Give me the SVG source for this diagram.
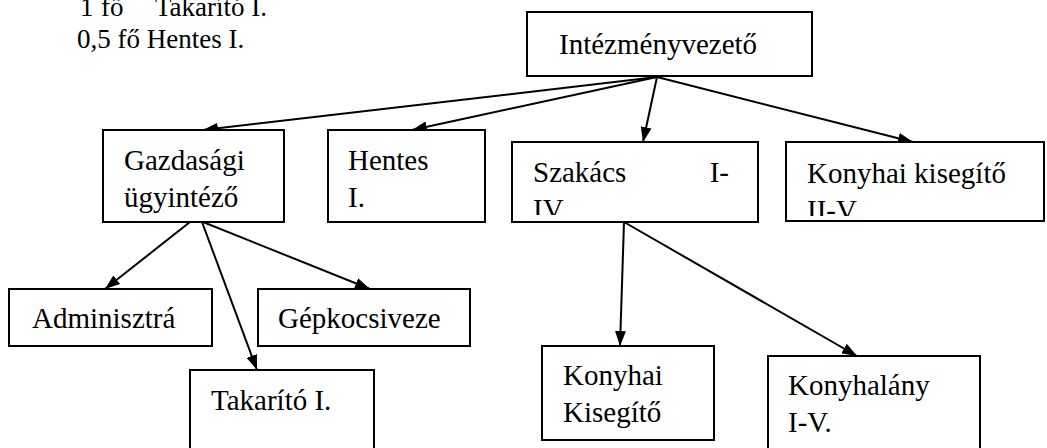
<svg xmlns="http://www.w3.org/2000/svg" width="1047" height="448" viewBox="0 0 1047 448">
<style>
.box{fill:#fff;stroke:#000;stroke-width:2}
.t{font-family:"Liberation Serif","Liberation Sans",sans-serif;font-size:29px;fill:#000}
.n{font-size:27px}
.c{stroke:#000;stroke-width:2;fill:none;marker-end:url(#ah)}
</style>
<defs>
<marker id="ah" markerUnits="userSpaceOnUse" markerWidth="15" markerHeight="11" refX="15" refY="5.5" orient="auto">
<path d="M0,0 L15,5.5 L0,11 Z" fill="#000"/>
</marker>
<clipPath id="cSz"><rect x="512" y="142" width="246" height="73"/></clipPath>
<clipPath id="cKk"><rect x="786" y="142" width="258" height="74"/></clipPath>
</defs>
<rect width="1047" height="448" fill="#fff"/>
<g id="note">
<text class="t n" y="16"><tspan x="80">1</tspan><tspan x="101">fő</tspan><tspan x="155">Takarító I.</tspan></text>
<text class="t n" x="77" y="48">0,5 fő Hentes I.</text>
</g>
<g id="connectors">
<line class="c" x1="657" y1="77" x2="203" y2="130"/>
<line class="c" x1="657" y1="77" x2="412" y2="130"/>
<line class="c" x1="657" y1="77" x2="643" y2="142"/>
<line class="c" x1="657" y1="77" x2="913" y2="142"/>
<line class="c" x1="190" y1="222" x2="105" y2="289"/>
<line class="c" x1="202" y1="222" x2="257" y2="370"/>
<line class="c" x1="203" y1="222" x2="370" y2="289"/>
<line class="c" x1="624" y1="222" x2="620" y2="346"/>
<line class="c" x1="624" y1="222" x2="857" y2="356"/>
</g>
<g id="n-intezmenyvezeto">
<rect class="box" x="527" y="12" width="285" height="64"/>
<text class="t" x="559" y="54">Intézményvezető</text>
</g>
<g id="n-gazdasagi">
<rect class="box" x="103" y="130" width="181" height="92"/>
<text class="t" x="124" y="170">Gazdasági</text>
<text class="t" x="124" y="207">ügyintéző</text>
</g>
<g id="n-hentes">
<rect class="box" x="328" y="130" width="157" height="92"/>
<text class="t" x="348" y="170">Hentes</text>
<text class="t" x="348" y="207">I.</text>
</g>
<g id="n-szakacs">
<rect class="box" x="512" y="142" width="246" height="80"/>
<g clip-path="url(#cSz)">
<text class="t" x="533" y="182">Szakács</text>
<text class="t" x="729" y="182" text-anchor="end">I-</text>
<text class="t" x="533" y="219">IV</text>
</g>
</g>
<g id="n-konyhai-kisegito">
<rect class="box" x="786" y="142" width="258" height="79"/>
<g clip-path="url(#cKk)">
<text class="t" x="807" y="183">Konyhai kisegítő</text>
<text class="t" x="807" y="220">II-V</text>
</g>
</g>
<g id="n-adminisztra">
<rect class="box" x="9" y="289" width="203" height="57"/>
<text class="t" x="32" y="328">Adminisztrá</text>
</g>
<g id="n-gepkocsiveze">
<rect class="box" x="258" y="289" width="212" height="57"/>
<text class="t" x="278" y="328">Gépkocsiveze</text>
</g>
<g id="n-takarito">
<rect class="box" x="190" y="370" width="184" height="90"/>
<text class="t" x="211" y="410">Takarító I.</text>
</g>
<g id="n-konyhai-kisegito2">
<rect class="box" x="542" y="346" width="172" height="94"/>
<text class="t" x="563" y="385">Konyhai</text>
<text class="t" x="563" y="422">Kisegítő</text>
</g>
<g id="n-konyhalany">
<rect class="box" x="768" y="356" width="212" height="100"/>
<text class="t" x="788" y="395">Konyhalány</text>
<text class="t" x="788" y="432">I-V.</text>
</g>
</svg>
